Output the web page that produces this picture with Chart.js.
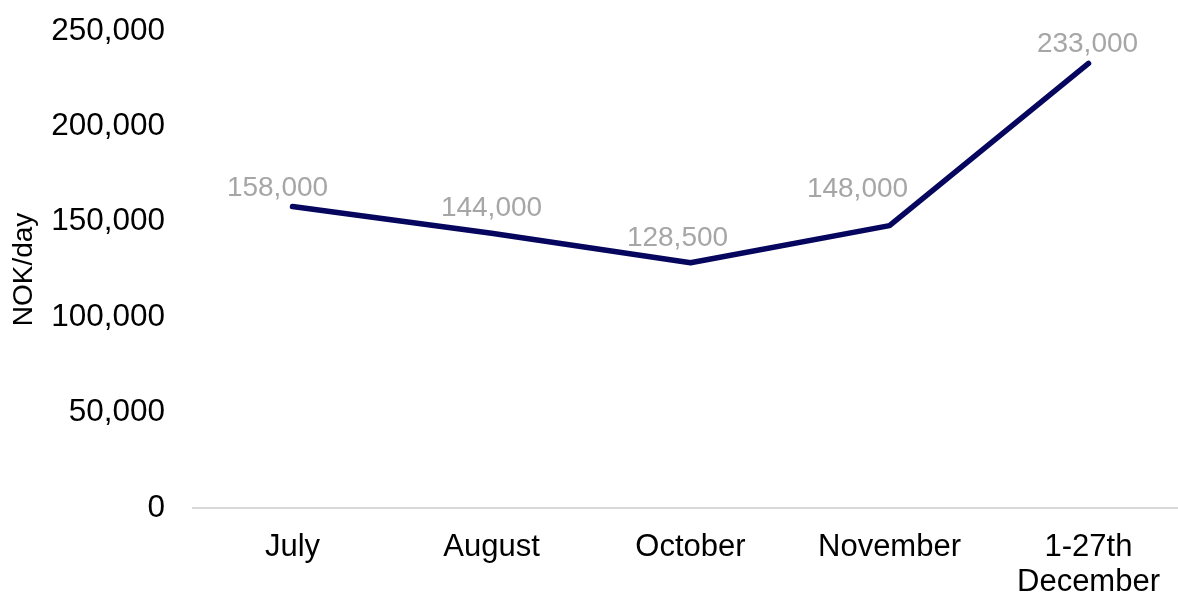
<!DOCTYPE html>
<html>
<head>
<meta charset="utf-8">
<script src="https://cdn.jsdelivr.net/npm/chart.js@4"></script>
<style>
  html, body { margin: 0; padding: 0; background: #fff; overflow: hidden; }
  #wrap { width: 1190px; height: 595px; position: relative; }
</style>
</head>
<body>
<div id="wrap"><canvas id="nok-chart"></canvas></div>
<script>
// Datos del gráfico
const months = ['July', 'August', 'October', 'November', ['1-27th', 'December']];
const nokPerDay = [158000, 144000, 128500, 148000, 233000];
const yTicks = [0, 50000, 100000, 150000, 200000, 250000];

const fmt = (v) => v.toLocaleString('en-US');

// Etiquetas de valor encima de cada punto
const valueLabels = {
  id: 'valueLabels',
  afterDatasetsDraw(chart, args, opts) {
    const { ctx } = chart;
    const meta = chart.getDatasetMeta(0);
    ctx.save();
    ctx.font = opts.font;
    ctx.fillStyle = opts.color;
    ctx.textAlign = 'center';
    ctx.textBaseline = 'middle';
    meta.data.forEach((pt, i) => {
      const [dx, dy] = opts.offsets[i] || [0, -22];
      ctx.fillText(fmt(chart.data.datasets[0].data[i]), pt.x + dx, pt.y + dy);
    });
    ctx.restore();
  }
};

function initChart() {
  const ctx = document.getElementById('nok-chart');
  new Chart(ctx, {
    type: 'line',
    data: {
      labels: months,
      datasets: [{
        data: nokPerDay,
        borderColor: '#06065f',
        borderWidth: 5.5,
        borderCapStyle: 'round',
        borderJoinStyle: 'round',
        tension: 0,
        pointRadius: 0,
        fill: false,
      }]
    },
    options: {
      responsive: true,
      maintainAspectRatio: false,
      animation: false,
      layout: { padding: { top: 31, right: 2, left: 0, bottom: 0 } },
      plugins: {
        legend: { display: false },
        tooltip: { enabled: false },
        valueLabels: {
          font: '28px "Liberation Sans", Arial, sans-serif',
          color: '#a6a6a6',
          offsets: [[-15, -18], [0, -25], [-13, -25], [-32, -36], [-1, -19]]
        }
      },
      scales: {
        x: {
          offset: true,
          grid: { display: false, drawTicks: false },
          border: { display: true, color: '#d9d9d9', width: 2 },
          ticks: {
            color: '#000',
            padding: 22,
            maxRotation: 0,
            font: { family: '"Liberation Sans", Arial, sans-serif', size: 31, lineHeight: 1.12 }
          },
          afterFit: (s) => { s.height = 87; s.paddingLeft = 0; s.paddingRight = 0; }
        },
        y: {
          min: 0,
          max: 250000,
          grid: { display: false, drawTicks: false },
          border: { display: false },
          afterBuildTicks: (s) => { s.ticks = yTicks.map(v => ({ value: v })); },
          afterFit: (s) => { s.width = 193; s.paddingTop = 0; s.paddingBottom = 0; },
          ticks: {
            color: '#000',
            padding: 28,
            font: { family: '"Liberation Sans", Arial, sans-serif', size: 31.5 },
            callback: (v) => fmt(v)
          },
          title: {
            display: true,
            text: 'NOK/day',
            color: '#000',
            padding: { top: 7, bottom: 0 },
            font: { family: '"Liberation Sans", Arial, sans-serif', size: 28 }
          }
        }
      }
    },
    plugins: [valueLabels]
  });
}

window.addEventListener('DOMContentLoaded', initChart);
</script>
</body>
</html>
